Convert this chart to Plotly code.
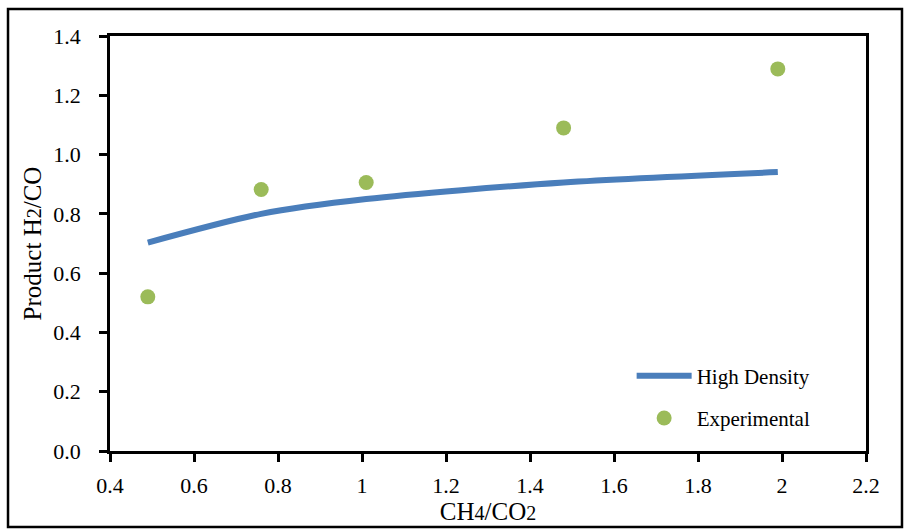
import plotly.graph_objects as go

# CH4/CO2 feed ratio vs product H2/CO
model_ratio = [0.49, 0.76, 1.01, 1.48, 1.99]
model_h2co = [0.703, 0.800, 0.850, 0.906, 0.941]

exp_ratio = [0.49, 0.76, 1.01, 1.48, 1.99]
exp_h2co = [0.52, 0.882, 0.906, 1.09, 1.289]

x_ticks = [0.4, 0.6, 0.8, 1.0, 1.2, 1.4, 1.6, 1.8, 2.0, 2.2]
x_tick_text = ["0.4", "0.6", "0.8", "1", "1.2", "1.4", "1.6", "1.8", "2", "2.2"]
y_ticks = [0.0, 0.2, 0.4, 0.6, 0.8, 1.0, 1.2, 1.4]
y_tick_text = ["0.0", "0.2", "0.4", "0.6", "0.8", "1.0", "1.2", "1.4"]

FONT = "Liberation Serif, Times New Roman, serif"
SMALL = '<span style="font-size:20px">{}</span>'

fig = go.Figure()
fig.add_trace(go.Scatter(
    x=model_ratio, y=model_h2co, mode="lines", name="High Density",
    line=dict(color="#4A7EBB", width=6, shape="spline", smoothing=0.8),
    legendgroup="a",
))
fig.add_trace(go.Scatter(
    x=exp_ratio, y=exp_h2co, mode="markers", name="Experimental",
    marker=dict(color="#9BBB59", size=15),
    legendgroup="b",
))

axis_common = dict(
    showline=True, linecolor="black", linewidth=2.5, mirror=True,
    ticks="outside", ticklen=8, tickwidth=2.5, tickcolor="black",
    showgrid=False, zeroline=False, automargin=False,
    tickfont=dict(family=FONT, size=22, color="black"),
)

fig.update_layout(
    width=906, height=529,
    margin=dict(l=110, r=40, t=36, b=78),
    paper_bgcolor="white", plot_bgcolor="white",
    font=dict(family=FONT, color="black"),
    xaxis=dict(
        range=[0.4, 2.2], tickvals=x_ticks, ticktext=x_tick_text,
        title=dict(text="CH" + SMALL.format("4") + "/CO" + SMALL.format("2"),
                   font=dict(family=FONT, size=25), standoff=1),
        ticklabelstandoff=5,
        **axis_common,
    ),
    yaxis=dict(
        range=[0, 1.4], tickvals=y_ticks, ticktext=y_tick_text,
        title=dict(text="Product H" + SMALL.format("2") + "/CO",
                   font=dict(family=FONT, size=25), standoff=5),
        ticklabelstandoff=14,
        **axis_common,
    ),
    legend=dict(
        x=0.69, y=0.23, xanchor="left", yanchor="top",
        font=dict(family=FONT, size=21, color="black"),
        bgcolor="rgba(0,0,0,0)", traceorder="grouped", tracegroupgap=12,
        itemwidth=55,
    ),
    shapes=[dict(
        type="rect", xref="paper", yref="paper",
        x0=-0.1349, x1=1.0476, y0=-0.183, y1=1.065,
        line=dict(color="black", width=2.5), fillcolor="rgba(0,0,0,0)",
        layer="below",
    )],
)

fig.write_html("out.html")
